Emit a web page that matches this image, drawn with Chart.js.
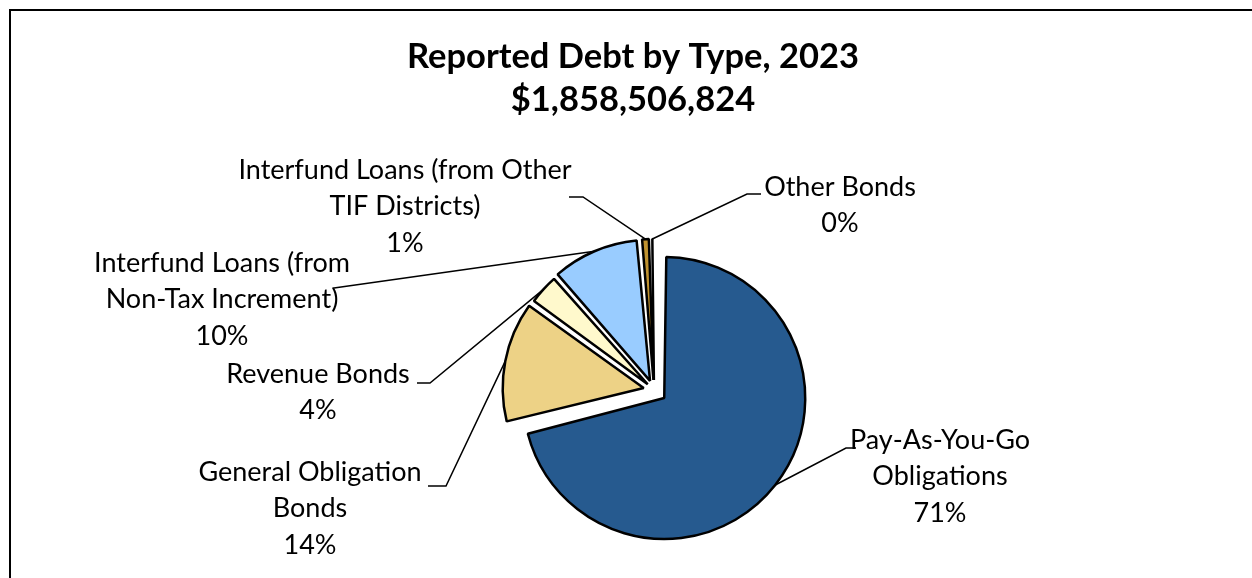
<!DOCTYPE html>
<html>
<head>
<meta charset="utf-8">
<script src="https://cdn.jsdelivr.net/npm/chart.js@4"></script>
<style>
  html, body { margin: 0; padding: 0; background: #fff; overflow: hidden; }
  #frame { position: absolute; left: 9px; top: 9px; width: 2000px; height: 2000px;
           border-left: 2px solid #000; border-top: 2px solid #000; }
  canvas { position: absolute; left: 0; top: 0; }
</style>
</head>
<body>
<div id="frame"></div>
<canvas id="pie" width="1252" height="578"></canvas>
<script>
// data (dollars, total $1,858,506,824)
const categories = [
	'Pay-As-You-Go Obligations',
	'General Obligation Bonds',
	'Revenue Bonds',
	'Interfund Loans (from Non-Tax Increment)',
	'Interfund Loans (from Other TIF Districts)',
	'Other Bonds',
];
const amounts = [1322300000, 256470000, 66900000, 185850000, 20440000, 6500000];
const titleLines = ['Reported Debt by Type, 2023', '$1,858,506,824'];
const labelLines = [
	['Pay-As-You-Go', 'Obligations'],
	['General Obligation', 'Bonds'],
	['Revenue Bonds'],
	['Interfund Loans (from', 'Non-Tax Increment)'],
	['Interfund Loans (from Other', 'TIF Districts)'],
	['Other Bonds'],
];

// styling
const colors = ['#265A8F', '#EDD286', '#FFF9CC', '#99CCFF', '#C0922F', '#FFC000'];
const offsets = [52, 42, 34, 40, 40, 40];
const RADIUS = 141;
const LABEL_FONT = '27px Lato';
const TITLE_FONT = 'bold 34.5px Lato';
const LINE_GAP = 36.5;
// label placement: text centre x, first line centre y, elbow of leader, end of leader at the text
const labelPos = [
	{ x: 940, y: 440, elbow: [846, 448], end: [856, 448] },
	{ x: 310, y: 472, elbow: [446, 486], end: [428, 486] },
	{ x: 318, y: 374, elbow: [430, 383], end: [417, 383] },
	{ x: 222, y: 263, elbow: [334, 288], end: [334, 288] },
	{ x: 405, y: 170, elbow: [583, 197], end: [569, 197] },
	{ x: 840, y: 187, elbow: [747, 194], end: [761, 194] },
];

const total = amounts.reduce((a, b) => a + b, 0);

// chart.js grows an offset arc's radius by offset/4 * (1 - sin(circumference));
// take that back so every exploded slice keeps the same radius, like Excel does
const arcFix = (circ) => 1 - Math.sin(Math.min(Math.PI, circ));

const equalRadiusPlugin = {
	id: 'equalRadius',
	afterDatasetUpdate(chart, args) {
		args.meta.data.forEach((arc, i) => {
			arc.outerRadius = RADIUS - (offsets[i] / 4) * arcFix(arc.circumference);
		});
	},
};

const labelPlugin = {
	id: 'pieLabels',
	afterDatasetsDraw(chart) {
		const ctx = chart.ctx;
		const meta = chart.getDatasetMeta(0);
		ctx.save();

		// title
		ctx.fillStyle = '#000';
		ctx.font = TITLE_FONT;
		ctx.textAlign = 'center';
		ctx.textBaseline = 'middle';
		ctx.fillText(titleLines[0], 633, 57);
		ctx.fillText(titleLines[1], 633, 100);

		meta.data.forEach((arc, i) => {
			const mid = (arc.startAngle + arc.endAngle) / 2;
			const off = offsets[i] / 4;
			const r = arc.outerRadius + off * arcFix(arc.circumference) + off;
			const ax = arc.x + Math.cos(mid) * r;
			const ay = arc.y + Math.sin(mid) * r;
			const pos = labelPos[i];

			ctx.strokeStyle = '#000';
			ctx.lineWidth = 1.5;
			ctx.beginPath();
			ctx.moveTo(ax, ay);
			ctx.lineTo(pos.elbow[0], pos.elbow[1]);
			ctx.lineTo(pos.end[0], pos.end[1]);
			ctx.stroke();

			const pct = Math.round((amounts[i] / total) * 100) + '%';
			const lines = labelLines[i].concat([pct]);
			ctx.font = LABEL_FONT;
			ctx.fillStyle = '#000';
			lines.forEach((t, k) => ctx.fillText(t, pos.x, pos.y + k * LINE_GAP));
		});
		ctx.restore();
	},
};

new Chart(document.getElementById('pie'), {
	type: 'pie',
	data: {
		labels: categories,
		datasets: [
			{
				data: amounts,
				backgroundColor: colors,
				borderColor: '#000',
				borderWidth: 2.5,
				offset: offsets,
			},
		],
	},
	options: {
		responsive: false,
		animation: false,
		radius: RADIUS,
		layout: { padding: { left: 56, right: 0, top: 202, bottom: 0 } },
		plugins: {
			legend: { display: false },
			tooltip: { enabled: false },
		},
	},
	plugins: [equalRadiusPlugin, labelPlugin],
});
</script>
</body>
</html>
